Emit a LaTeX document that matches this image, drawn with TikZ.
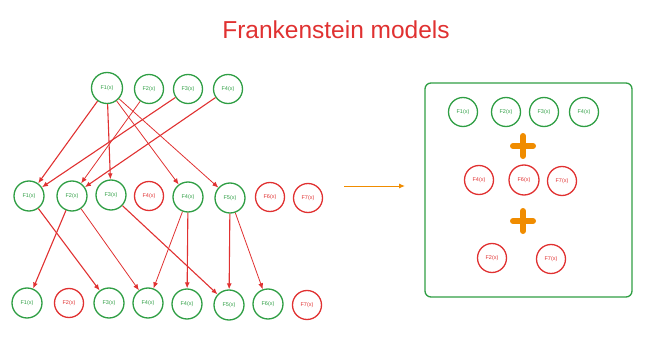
\documentclass[tikz,border=0pt]{standalone}
\usepackage{fontspec}
\setsansfont{Liberation Sans}
\definecolor{sketchgreen}{RGB}{47, 158, 68}
\definecolor{sketchred}{RGB}{224, 49, 49}
\definecolor{sketchorange}{RGB}{240, 140, 0}
\usetikzlibrary{arrows.meta, positioning}
\tikzset{
	good/.style={circle, draw=sketchgreen, line width=1.3pt, minimum size=29pt, inner sep=0pt, text=sketchgreen, font=\sffamily\fontsize{5.5}{6}\selectfont},
	bad/.style={circle, draw=sketchred, line width=1.3pt, minimum size=29pt, inner sep=0pt, text=sketchred, font=\sffamily\fontsize{5.5}{6}\selectfont},
	frame/.style={rectangle, rounded corners=6pt, draw=sketchgreen, line width=1.3pt, minimum width=207pt, minimum height=214pt},
	heading/.style={text=sketchred, font=\sffamily\fontsize{24.5}{27}\selectfont, anchor=base},
	arrow/.style={-{Latex[length=6pt, width=5pt]}, line width=1.1pt, draw=sketchred},
	thinarrow/.style={-{Latex[length=6pt, width=5pt]}, line width=0.8pt, draw=sketchred},
	bigarrow/.style={-{Latex[length=6pt, width=5pt]}, line width=1pt, draw=sketchorange},
	plusmark/.style={line width=6pt, line cap=round, draw=sketchorange},
}

\begin{document}
\begin{tikzpicture}[x=1pt, y=-1pt]
		\useasboundingbox (0,0) rectangle (657,345);
		\node[heading] (title) at (336,39) {Frankenstein models};
		% first models
		\node[good, minimum size=31pt] (t1) at (107,88) {F1(x)};
		\node[good] (t2) at (149,89) {F2(x)};
		\node[good] (t3) at (188,89) {F3(x)};
		\node[good] (t4) at (228,89) {F4(x)};
		% second generation
		\node[good, minimum size=30pt] (m1) at (29,196) {F1(x)};
		\node[good, minimum size=30pt] (m2) at (72,196) {F2(x)};
		\node[good, minimum size=30pt] (m3) at (111,195) {F3(x)};
		\node[bad] (m4r) at (149,196) {F4(x)};
		\node[good, minimum size=30pt] (m4) at (188,197) {F4(x)};
		\node[good, minimum size=30pt] (m5) at (230,198) {F5(x)};
		\node[bad] (m6) at (270,197) {F6(x)};
		\node[bad] (m7) at (308,198) {F7(x)};
		% third generation
		\node[good, minimum size=30pt] (b1) at (27,303) {F1(x)};
		\node[bad] (b2) at (69,303) {F2(x)};
		\node[good, minimum size=30pt] (b3) at (109,303) {F3(x)};
		\node[good, minimum size=30pt] (b4a) at (148,303) {F4(x)};
		\node[good, minimum size=30pt] (b4b) at (187,304) {F4(x)};
		\node[good, minimum size=30pt] (b5) at (229,305) {F5(x)};
		\node[good, minimum size=30pt] (b6) at (268,304) {F6(x)};
		\node[bad] (b7) at (307,305) {F7(x)};
		% links
		\draw[arrow] (t1) -- (m1);
		\draw[arrow] (t1) -- (m3);
		\draw[thinarrow] (t1) -- (m4);
		\draw[thinarrow] (t1) -- (m5);
		\draw[thinarrow] (t2) -- (m2);
		\draw[arrow] (t3) -- (m1);
		\draw[arrow] (t4) -- (m2);
		\draw[arrow] (m1) -- (b3);
		\draw[arrow] (m2) -- (b1);
		\draw[thinarrow] (m2) -- (b4a);
		\draw[arrow] (m3) -- (b5);
		\draw[thinarrow] (m4) -- (b4a);
		\draw[arrow] (m4) -- (b4b);
		\draw[arrow] (m5) -- (b5);
		\draw[thinarrow] (m5) -- (b6);
		\coordinate (go) at (344,186);
		\coordinate (stop) at (405,186);
		\draw[bigarrow] (go) -- (stop);
		% final model
		\node[frame] (box) at (528.5,190) {};
		\node[good] (k1) at (463,112) {F1(x)};
		\node[good] (k2) at (506,112) {F2(x)};
		\node[good] (k3) at (544,112) {F3(x)};
		\node[good] (k4) at (584,112) {F4(x)};
		\node[bad] (k5) at (479,180) {F4(x)};
		\node[bad, minimum size=30pt] (k6) at (524,180) {F6(x)};
		\node[bad] (k7) at (562,181) {F7(x)};
		\node[bad] (k8) at (492,258) {F2(x)};
		\node[bad] (k9) at (551,259) {F7(x)};
		\coordinate (plusA) at (523,146);
		\coordinate (plusB) at (523,221);
		\draw[plusmark] (plusA) ++(-10,0) -- ++(20,0) (plusA) ++(0,-10) -- ++(0,20);
		\draw[plusmark] (plusB) ++(-10,0) -- ++(20,0) (plusB) ++(0,-10) -- ++(0,20);
	\end{tikzpicture}
\end{document}
